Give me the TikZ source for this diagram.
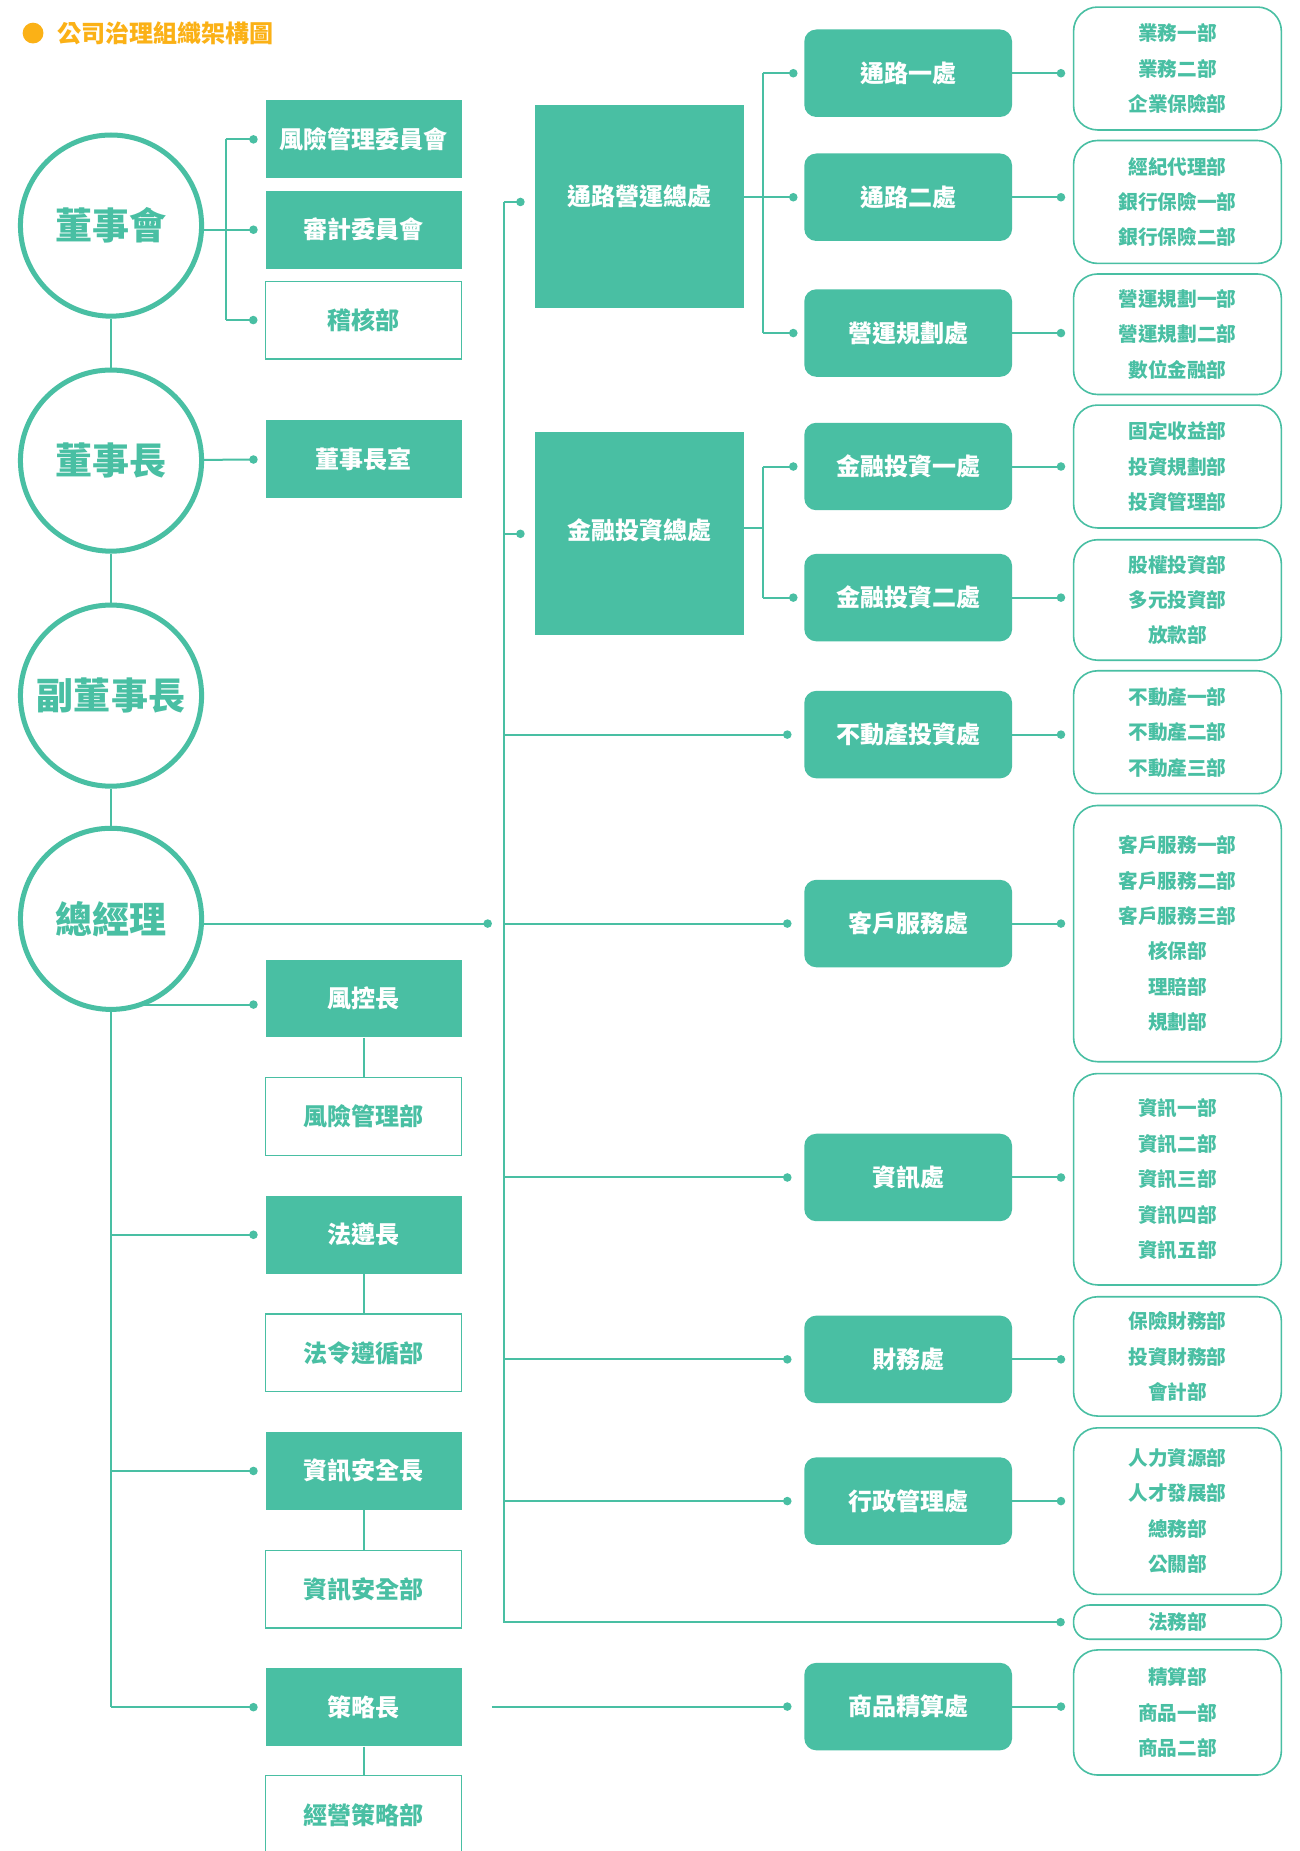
\documentclass[tikz,border=0pt]{standalone}
\usepackage{fontspec}
\setmainfont{Noto Sans CJK TC}
\usetikzlibrary{arrows.meta,backgrounds}
\definecolor{orgteal}{HTML}{49BFA3}
\definecolor{orgorange}{HTML}{FBB116}
\tikzset{
  chief/.style={circle, draw=orgteal, fill=white, line width=2.5pt, minimum size=90.5pt, inner sep=0pt, text=orgteal, font=\fontsize{18.5}{20}\selectfont\bfseries},
  solidbox/.style={fill=orgteal, text=white, minimum width=98pt, minimum height=38.9pt, inner sep=0pt, font=\fontsize{12}{14}\selectfont\bfseries},
  hollowbox/.style={solidbox, fill=white, draw=orgteal, line width=0.6pt, text=orgteal},
  bigbox/.style={solidbox, minimum width=104.4pt, minimum height=101.5pt},
  unitbox/.style={solidbox, rounded corners=6pt, minimum width=103.8pt, minimum height=43.7pt},
  deptbox/.style={draw=orgteal, fill=white, line width=0.8pt, rounded corners=12pt, text=orgteal, minimum width=103.8pt, minimum height=#1, inner sep=0pt, align=center, font=\fontsize{9.8}{17.7}\selectfont\bfseries},
  wire/.style={draw=orgteal, line width=1pt},
  dotwire/.style={wire, -{Circle[length=4.2pt]}, shorten >=#1},
  dotwire/.default=3.8pt
}
\begin{document}
\begin{tikzpicture}[x=0.59pt,y=-0.59pt]
\useasboundingbox (0,0) rectangle (1100,1567.3);

\node [circle, fill=orgorange, minimum size=10.4pt, inner sep=0pt] (bullet) at (28,28) {};
\node [anchor=west, inner sep=0pt, text=orgorange, font=\fontsize{12}{14}\selectfont\bfseries] (title) at (48,28) {公司治理組織架構圖};

\node [chief] (board) at (94,191) {董事會};
\node [chief] (chair) at (94,390) {董事長};
\node [chief] (vice) at (94,589) {副董事長};
\node [chief] (gm) at (94,778) {總經理};

\node [solidbox] (rmc) at (308,118) {風險管理委員會};
\node [solidbox] (audit) at (308,194.5) {審計委員會};
\node [hollowbox] (inaud) at (308,271) {稽核部};
\node [solidbox] (office) at (308,389) {董事長室};
\node [solidbox] (cro) at (308,845.5) {風控長};
\node [hollowbox] (riskdept) at (308,945.5) {風險管理部};
\node [solidbox] (cco) at (308,1045.5) {法遵長};
\node [hollowbox] (compdept) at (308,1145.5) {法令遵循部};
\node [solidbox] (ciso) at (308,1245.5) {資訊安全長};
\node [hollowbox] (secdept) at (308,1345.5) {資訊安全部};
\node [solidbox] (cso) at (308,1445.5) {策略長};
\node [hollowbox] (stratdept) at (308,1536.6) {經營策略部};

\node [bigbox, text depth=11.5pt] (chan) at (541.5,175) {通路營運總處};
\node [bigbox, text depth=5pt] (invest) at (541.5,452) {金融投資總處};

\node [unitbox] (ch1) at (769,62) {通路一處};
\node [unitbox] (ch2) at (769,167) {通路二處};
\node [unitbox] (plan) at (769,282) {營運規劃處};
\node [unitbox] (inv1) at (769,395) {金融投資一處};
\node [unitbox] (inv2) at (769,506) {金融投資二處};
\node [unitbox] (estate) at (769,622) {不動產投資處};
\node [unitbox] (service) at (769,782) {客戶服務處};
\node [unitbox] (info) at (769,997) {資訊處};
\node [unitbox] (finance) at (769,1151) {財務處};
\node [unitbox] (admin) at (769,1271) {行政管理處};
\node [unitbox] (actu) at (769,1445) {商品精算處};

\node [deptbox=61.4pt] (sales) at (997,58) {業務一部\\業務二部\\企業保險部};
\node [deptbox=61.4pt] (broker) at (997,171) {經紀代理部\\銀行保險一部\\銀行保險二部};
\node [deptbox=60.2pt] (opsplan) at (997,283) {營運規劃一部\\營運規劃二部\\數位金融部};
\node [deptbox=61.4pt] (fixinc) at (997,395) {固定收益部\\投資規劃部\\投資管理部};
\node [deptbox=60.2pt] (equity) at (997,508) {股權投資部\\多元投資部\\放款部};
\node [deptbox=61.4pt] (realty) at (997,620) {不動產一部\\不動產二部\\不動產三部};
\node [deptbox=128pt] (custsvc) at (997,790.5) {客戶服務一部\\客戶服務二部\\客戶服務三部\\核保部\\理賠部\\規劃部};
\node [deptbox=105.6pt] (itdept) at (997,998.5) {資訊一部\\資訊二部\\資訊三部\\資訊四部\\資訊五部};
\node [deptbox=59.6pt] (finacct) at (997,1148.5) {保險財務部\\投資財務部\\會計部};
\node [deptbox=83.2pt] (hr) at (997,1279.5) {人力資源部\\人才發展部\\總務部\\公關部};
\node [deptbox=17.1pt, rounded corners=8pt] (legal) at (997,1373.5) {法務部};
\node [deptbox=62.5pt] (actdept) at (997,1450) {精算部\\商品一部\\商品二部};

\begin{scope}[on background layer]
\fill [white] (0,0) rectangle (1100,1567.3);

\coordinate (bdbus) at (191,0);
\coordinate (crotap) at ([yshift=-3pt]cro.west);
\coordinate (trunk) at (427,171);
\coordinate (tap) at (416.5,782);
\coordinate (chbus) at (646,0);
\coordinate (invtap) at ([yshift=3pt]invest.east);

\draw [wire] (board) -- (chair) -- (vice) -- (gm) -- (gm |- cso.west);
\draw [dotwire] (board |- audit.west) -- (audit.west);
\draw [wire] (bdbus |- rmc.west) -- (bdbus |- inaud.west);
\draw [dotwire] (bdbus |- rmc.west) -- (rmc.west);
\draw [dotwire] (bdbus |- inaud.west) -- (inaud.west);
\draw [dotwire] (chair) -- (office.west);

\draw [dotwire] (gm |- crotap) -- (crotap);
\draw [dotwire] (gm |- cco.west) -- (cco.west);
\draw [dotwire] (gm |- ciso.west) -- (ciso.west);
\draw [dotwire] (gm |- cso.west) -- (cso.west);
\draw [wire] (cro) -- (riskdept);
\draw [wire] (cco) -- (compdept);
\draw [wire] (ciso) -- (secdept);
\draw [wire] (cso) -- (stratdept);

\draw [dotwire=4pt] (trunk) -- (trunk |- legal.west) -- (legal.west);
\draw [dotwire=5pt] (trunk) -- (trunk -| chan.west);
\draw [dotwire=5pt] (trunk |- invest.west) -- (invest.west);
\draw [dotwire=6.2pt] (trunk |- estate.west) -- (estate.west);
\draw [dotwire=6.2pt] (trunk |- service.west) -- (service.west);
\draw [dotwire=6.2pt] (trunk |- info.west) -- (info.west);
\draw [dotwire=6.2pt] (trunk |- finance.west) -- (finance.west);
\draw [dotwire=6.2pt] (trunk |- admin.west) -- (admin.west);
\draw [dotwire=0pt] (gm |- tap) -- (tap);
\draw [dotwire=6.2pt] (tap |- actu.west) -- (actu.west);

\draw [dotwire=3.2pt] (chan.east |- ch2.west) -- (ch2.west);
\draw [wire] (chbus |- ch1.west) -- (chbus |- plan.west);
\draw [dotwire=3.2pt] (chbus |- ch1.west) -- (ch1.west);
\draw [dotwire=3.2pt] (chbus |- plan.west) -- (plan.west);
\draw [wire] (invtap) -- (chbus |- invtap);
\draw [wire] (chbus |- inv1.west) -- (chbus |- inv2.west);
\draw [dotwire=3.2pt] (chbus |- inv1.west) -- (inv1.west);
\draw [dotwire=3.2pt] (chbus |- inv2.west) -- (inv2.west);

\draw [dotwire] (ch1.east) -- (ch1.east -| sales.west);
\draw [dotwire] (ch2.east) -- (ch2.east -| broker.west);
\draw [dotwire] (plan.east) -- (plan.east -| opsplan.west);
\draw [dotwire] (inv1.east) -- (inv1.east -| fixinc.west);
\draw [dotwire] (inv2.east) -- (inv2.east -| equity.west);
\draw [dotwire] (estate.east) -- (estate.east -| realty.west);
\draw [dotwire] (service.east) -- (service.east -| custsvc.west);
\draw [dotwire] (info.east) -- (info.east -| itdept.west);
\draw [dotwire] (finance.east) -- (finance.east -| finacct.west);
\draw [dotwire] (admin.east) -- (admin.east -| hr.west);
\draw [dotwire] (actu.east) -- (actu.east -| actdept.west);
\end{scope}
\end{tikzpicture}
\end{document}
